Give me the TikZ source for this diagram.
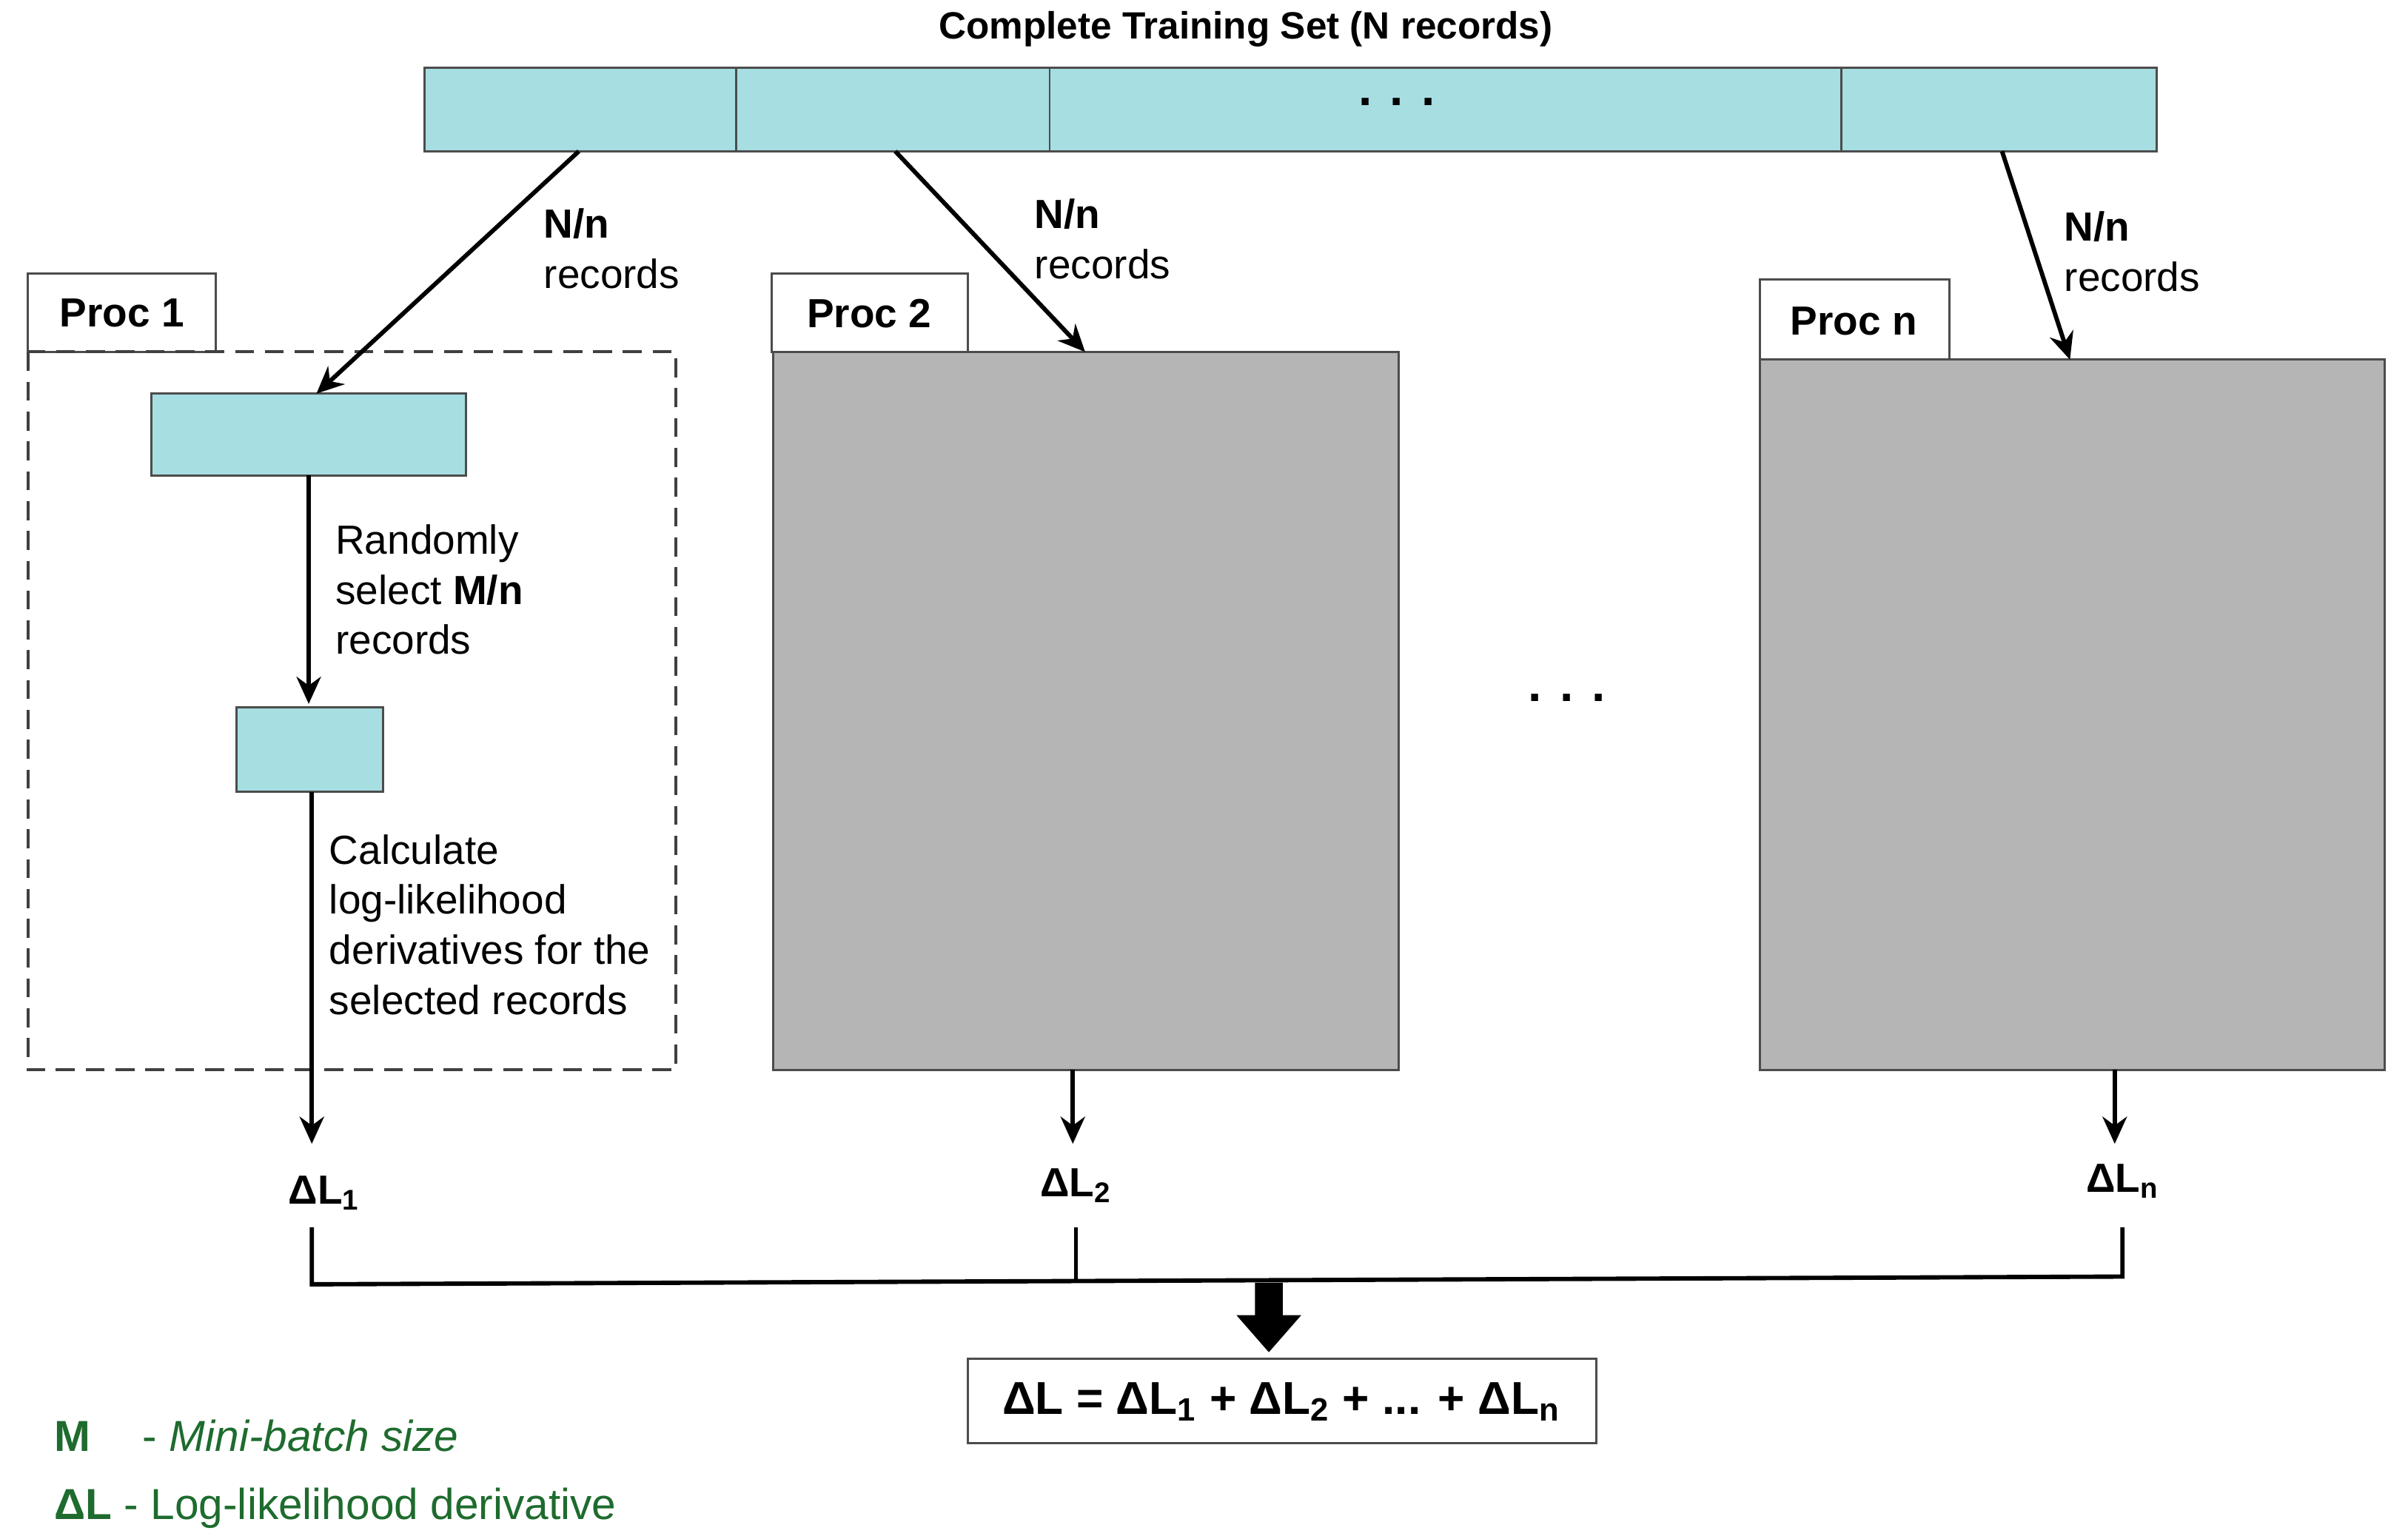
\documentclass[tikz,border=0pt]{standalone}
\usepackage{fontspec}
\setmainfont{Liberation Sans}
\usetikzlibrary{arrows.meta}
\definecolor{teal1}{HTML}{A6DEE2}
\definecolor{grayb}{HTML}{B5B5B5}
\definecolor{legend}{HTML}{1E6B2E}
\begin{document}
\begin{tikzpicture}[x=0.02cm,y=-0.02cm,
  rec/.style={draw=black!70,fill=teal1,line width=0.8pt},
  tab/.style={draw=black!70,fill=white,line width=0.8pt},
  gbox/.style={draw=black!70,fill=grayb,line width=0.8pt},
  arr/.style={-{Stealth[length=10pt,width=9pt]},line width=1.6pt},
  txt/.style={font=\fontsize{15}{18.5}\selectfont,anchor=west,inner sep=0},
  btxt/.style={font=\fontsize{15}{18}\selectfont\bfseries,inner sep=0}]
\useasboundingbox (0,0) rectangle (1560,997);
% top bar
\draw[rec] (275,44) rectangle (1397,98);
\draw[black!70,line width=0.8pt] (477,44) -- (477,98) (680,44) -- (680,98) (1193,44) -- (1193,98);
\coordinate (s1) at (375,98); \coordinate (s2) at (580,98); \coordinate (s4) at (1297,98);
\node[btxt,font=\fontsize{18}{18}\selectfont\bfseries] (dots1) at (905,66) {. . .};
\node[btxt,font=\fontsize{14}{16}\selectfont\bfseries] (title) at (807,19) {Complete Training Set (N records)};
% proc 1
\draw[tab] (18,177) rectangle (140,228);
\node[btxt] (t1) at (79,203) {Proc 1};
\draw[dash pattern=on 7pt off 4pt,line width=1.1pt,black!75] (18,228) rectangle (438,693);
\draw[rec] (98,255) rectangle (302,308);
\draw[rec] (153,458) rectangle (248,513);
% proc 2
\draw[tab] (500,177) rectangle (627,228);
\node[btxt] (t2) at (563,203) {Proc 2};
\draw[gbox] (501,228) rectangle (906,693);
% proc n
\draw[tab] (1140,181) rectangle (1263,233);
\node[btxt] (t3) at (1201,208) {Proc n};
\draw[gbox] (1140,233) rectangle (1545,693);
\node[btxt,font=\fontsize{18}{18}\selectfont\bfseries] (dots2) at (1015,452) {. . .};
% split arrows
\coordinate (a1) at (205,255);
\coordinate (a2) at (703,228);
\coordinate (a3) at (1341,233);
\draw[arr] (s1) -- (a1);
\draw[arr] (s2) -- (a2);
\draw[arr] (s4) -- (a3);
\node[txt,align=left] at (352,161) {\textbf{N/n}\\records};
\node[txt,align=left] at (670,155) {\textbf{N/n}\\records};
\node[txt,align=left] at (1337,163) {\textbf{N/n}\\records};
% inner
\coordinate (r1s) at (200,308); \coordinate (r2n) at (200,456);
\coordinate (r2s) at (202,513); \coordinate (o1) at (202,741);
\draw[arr] (r1s) -- (r2n);
\node[txt,align=left] at (217,382) {Randomly\\select \textbf{M/n}\\records};
\node[txt,align=left] at (213,599) {Calculate\\log-likelihood\\derivatives for the\\selected records};
% outputs
\node[btxt] (d1) at (210,773) {ΔL\textsubscript{1}};
\node[btxt] (d2) at (697,768) {ΔL\textsubscript{2}};
\node[btxt] (dn) at (1375,765) {ΔL\textsubscript{n}};
\draw[arr] (r2s) -- (o1);
\coordinate (g2s) at (695,693); \coordinate (g2o) at (695,741);
\coordinate (g3s) at (1370,693); \coordinate (g3o) at (1370,741);
\draw[arr] (g2s) -- (g2o);
\draw[arr] (g3s) -- (g3o);
\draw[line width=1.6pt] (202,795) -- (202,832) -- (1375,827) -- (1375,795);
\draw[line width=1.6pt] (697,795) -- (697,830);
% result
\draw[black!70,line width=0.8pt] (627,880) rectangle (1034,935);
\node[btxt,font=\fontsize{17}{18}\selectfont\bfseries] (res) at (830,908) {ΔL = ΔL\textsubscript{1} + ΔL\textsubscript{2} + ... + ΔL\textsubscript{n}};
\fill (813,831) -- (831,831) -- (831,852) -- (843,852) -- (822,876) -- (801,852) -- (813,852) -- cycle;
% legend
\node[txt,text=legend,font=\fontsize{16}{18}\selectfont] at (35,930) {\textbf{M}\hspace{1.2em}- \textit{Mini-batch size}};
\node[txt,text=legend,font=\fontsize{16}{18}\selectfont] at (35,977) {\textbf{ΔL} - Log-likelihood derivative};
\end{tikzpicture}
\end{document}
